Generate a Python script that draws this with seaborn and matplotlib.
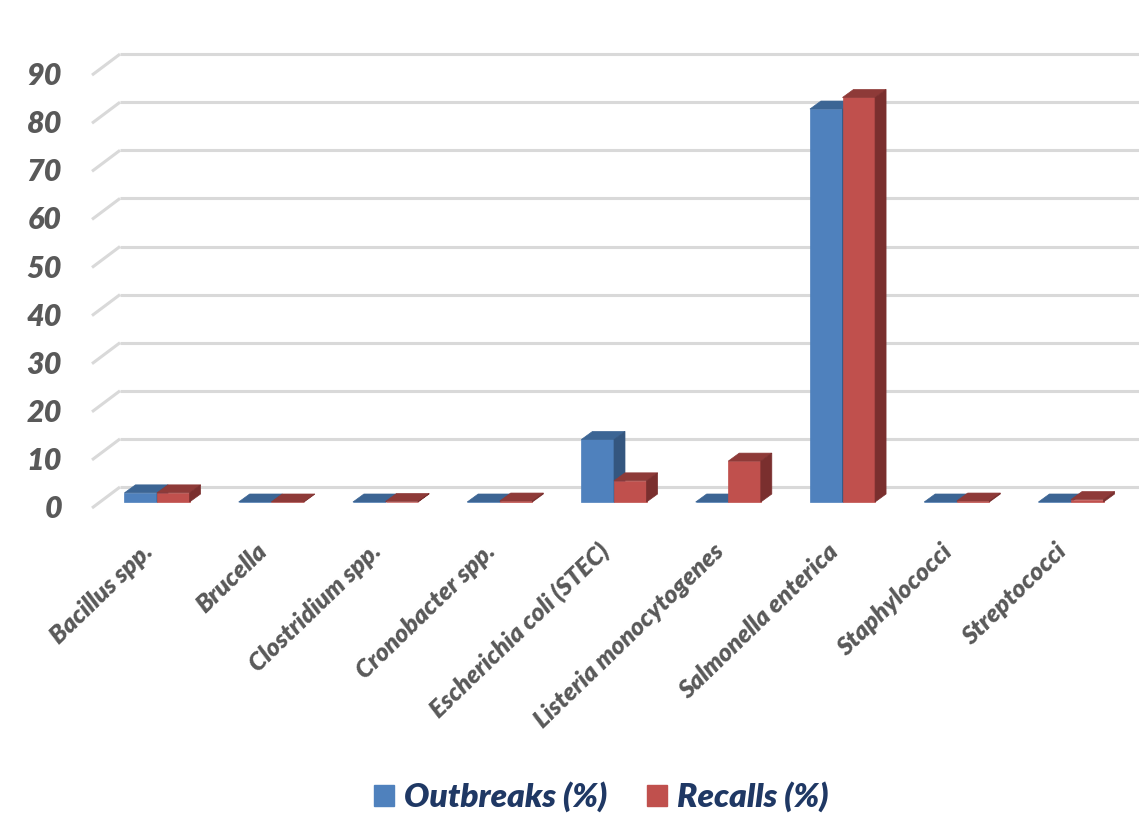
import matplotlib
matplotlib.use("Agg")
import matplotlib.pyplot as plt
import matplotlib.transforms as mtransforms
from matplotlib.patches import Polygon, Patch
import numpy as np
import pandas as pd
import seaborn as sns

# ---- data -------------------------------------------------------------
pathogens = [
    "Bacillus spp.", "Brucella", "Clostridium spp.", "Cronobacter spp.",
    "Escherichia coli (STEC)", "Listeria monocytogenes", "Salmonella enterica",
    "Staphylococci", "Streptococci",
]
outbreaks = [1.9, 0.0, 0.0, 0.0, 13.0, 0.0, 81.7, 0.0, 0.0]
recalls = [1.9, 0.0, 0.1, 0.2, 4.4, 8.5, 84.1, 0.2, 0.5]
series_names = ["Outbreaks (%)", "Recalls (%)"]
y_ticks = [0, 10, 20, 30, 40, 50, 60, 70, 80, 90]

df = pd.DataFrame({
    "Pathogen": pathogens * 2,
    "Value": outbreaks + recalls,
    "Series": [series_names[0]] * len(pathogens) + [series_names[1]] * len(pathogens),
})

# ---- style ------------------------------------------------------------
sns.set_theme(style="white")
plt.rcParams["font.family"] = ["Lato", "DejaVu Sans"]

front_cols = ["#4F81BD", "#C0504D"]
top_cols = ["#3C6594", "#8E3A38"]
side_cols = ["#34567F", "#7A2F2E"]
grid_col = "#D9D9D9"
label_col = "#595959"
legend_col = "#1F3864"

W, H, DPI = 1139, 824, 100
fig = plt.figure(figsize=(W / DPI, H / DPI), dpi=DPI)
fig.patch.set_facecolor("white")

# axes geometry in pixels (from top-left)
ax_left, ax_right, ax_top, ax_bottom = 92, 1139, 40, 520
base_px = 502            # pixel row of value 0 on the bar plane
px_per_unit = 4.81       # vertical pixels per percentage point
first_center = 157       # pixel column of the first category
px_per_cat = 114.25      # spacing between categories

ax = fig.add_axes([ax_left / W, 1 - ax_bottom / H,
                   (ax_right - ax_left) / W, (ax_bottom - ax_top) / H])

sns.barplot(data=df, x="Pathogen", y="Value", hue="Series",
            palette=front_cols, width=0.57, saturation=1, errorbar=None,
            legend=False, ax=ax, zorder=3)

ax.set_ylim(-(ax_bottom - base_px) / px_per_unit, (base_px - ax_top) / px_per_unit)
ax.set_xlim(-(first_center - ax_left) / px_per_cat, (ax_right - first_center) / px_per_cat)
for s in ax.spines.values():
    s.set_visible(False)
ax.set_xlabel("")
ax.set_ylabel("")
ax.set_yticks([])

# pixel -> data conversion for the oblique depth effect
sx = 1.0 / px_per_cat
sy = 1.0 / px_per_unit

# back-wall gridlines with the slanted floor edge on the left
wall_dx, wall_dy = 28, 15      # back wall offset (px) from the bar plane
front_drop = 6                 # front edge sits a few px below the bar plane
x_front = ax.get_xlim()[0]
x_back = x_front + wall_dx * sx
x_end = ax.get_xlim()[1]
for v in y_ticks:
    ax.plot([x_front, x_back], [v - front_drop * sy, v + wall_dy * sy],
            color=grid_col, lw=2.2, zorder=0, solid_capstyle="butt", clip_on=False)
    ax.plot([x_back, x_end], [v + wall_dy * sy, v + wall_dy * sy],
            color=grid_col, lw=2.2, zorder=0, solid_capstyle="butt", clip_on=False)

# y tick labels at the front edge
lab_tr = ax.get_yaxis_transform() + mtransforms.Affine2D().translate(-30, -7)
for v in y_ticks:
    ax.text(0, v, str(v), transform=lab_tr, ha="right", va="center",
            fontsize=22, fontweight="heavy", fontstyle="italic", color=label_col)

# 3-D top and side faces of every bar
bar_dx, bar_dy = 11 * sx, 8 * sy
bars = [p for p in ax.patches if p.get_width() > 0]
n = len(pathogens)
for i, p in enumerate(bars):
    k = 0 if i < n else 1
    x0, w, h = p.get_x(), p.get_width(), p.get_height()
    z = 3 + k
    p.set_zorder(z)
    p.set_edgecolor(front_cols[k])
    p.set_linewidth(0.5)
    top = Polygon([(x0, h), (x0 + w, h), (x0 + w + bar_dx, h + bar_dy), (x0 + bar_dx, h + bar_dy)],
                  closed=True, facecolor=top_cols[k], edgecolor=top_cols[k], lw=0.5, zorder=z)
    side = Polygon([(x0 + w, 0), (x0 + w, h), (x0 + w + bar_dx, h + bar_dy), (x0 + w + bar_dx, bar_dy)],
                   closed=True, facecolor=side_cols[k], edgecolor=side_cols[k], lw=0.5, zorder=z)
    ax.add_patch(top)
    ax.add_patch(side)

# category labels
ax.tick_params(axis="x", length=0, pad=14)
ax.set_xticks(range(n))
ax.set_xticklabels(pathogens, rotation=44, ha="right", fontsize=18,
                   fontweight="heavy", fontstyle="italic", color=label_col)

# legend
handles = [Patch(facecolor=c, edgecolor=c) for c in front_cols]
leg = fig.legend(handles, series_names, loc="center", bbox_to_anchor=(601 / W, 1 - 797 / H),
                 ncol=2, frameon=False, handlelength=0.6, handleheight=0.6,
                 handletextpad=0.3, columnspacing=1.2,
                 prop={"size": 24, "weight": "heavy", "style": "italic"})
for t in leg.get_texts():
    t.set_color(legend_col)

fig.savefig("out.png", dpi=DPI, facecolor="white")
